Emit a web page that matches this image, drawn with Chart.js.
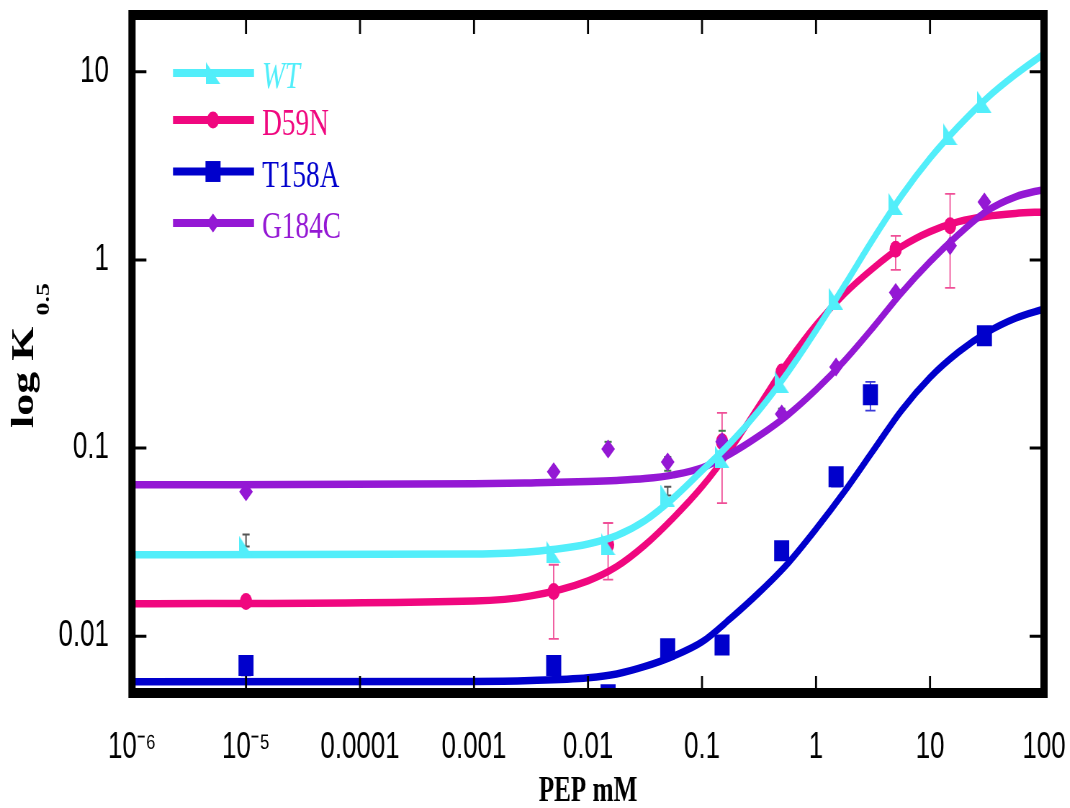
<!DOCTYPE html>
<html>
<head>
<meta charset="utf-8">
<script src="https://cdn.jsdelivr.net/npm/chart.js@4/dist/chart.umd.min.js"></script>
<style>
  html, body { margin: 0; padding: 0; background: #fff; overflow: hidden; }
  /* the original figure is squeezed sideways, so draw wide and squeeze */
  #chart { display: block; transform: scaleX(0.72); transform-origin: 0 0; }
</style>
</head>
<body>
<canvas id="chart" width="1486" height="808" style="width:1486px;height:808px"></canvas>
<script>
// tick labels
const xTickValues = [1e-6, 1e-5, 1e-4, 1e-3, 0.01, 0.1, 1, 10, 100];
const xTickLabels = ['10\u207B\u2076', '10\u207B\u2075', '0.0001', '0.001', '0.01', '0.1', '1', '10', '100'];
const yTickValues = [0.01, 0.1, 1, 10];
const yTickLabels = ['0.01', '0.1', '1', '10'];

// measured points
const wtX = [1e-5, 0.005, 0.015, 0.05, 0.15, 0.5, 1.5, 5, 15, 30];
const wtY = [0.030, 0.028, 0.031, 0.056, 0.090, 0.225, 0.62, 1.98, 4.67, 6.9];
const wtLo = [0.030, null, null, 0.056, null, null, null, null, null, null];
const wtHi = [0.0348, null, null, 0.0623, null, null, null, null, null, null];

const d59nX = [1e-5, 0.005, 0.015, 0.15, 0.5, 5, 15];
const d59nY = [0.0153, 0.0173, 0.0307, 0.108, 0.254, 1.14, 1.52];
const d59nLo = [null, 0.0097, 0.020, 0.051, null, 0.885, 0.71];
const d59nHi = [null, 0.024, 0.040, 0.154, null, 1.34, 2.24];

const t158aX = [1e-5, 0.005, 0.015, 0.05, 0.15, 0.5, 1.5, 3, 30];
const t158aY = [0.0070, 0.0070, 0.0049, 0.0086, 0.0090, 0.0285, 0.0704, 0.192, 0.395];
const t158aLo = [0.0062, null, null, null, null, null, 0.0625, 0.158, null];
const t158aHi = [null, null, null, null, null, null, null, 0.225, null];

const g184cX = [1e-5, 0.005, 0.015, 0.05, 0.15, 0.5, 1.5, 5, 15, 30];
const g184cY = [0.0586, 0.0748, 0.099, 0.0845, 0.108, 0.152, 0.27, 0.67, 1.19, 2.03];
const g184cLo = [null, null, null, 0.0757, null, null, null, 0.636, null, null];
const g184cHi = [null, null, 0.108, 0.0898, 0.1236, 0.162, null, null, null, null];

// fitted curves at quarter decades
const curveX = [1e-6, 1e-3, 0.00316, 0.01, 0.0178, 0.0316, 0.0562, 0.1, 0.178, 0.316, 0.562, 1, 1.78, 3.16, 5.62, 10, 17.8, 31.6, 56.2, 100];
const wtFit = [0.0271, 0.02742, 0.02818, 0.03097, 0.03428, 0.04121, 0.05433, 0.07586, 0.1067, 0.1585, 0.2512, 0.4217, 0.7328, 1.288, 2.188, 3.467, 5.129, 7.244, 9.661, 12.45];
const d59nFit = [0.01489, 0.01542, 0.01641, 0.01972, 0.02344, 0.03055, 0.04266, 0.06237, 0.09886, 0.1679, 0.2851, 0.4519, 0.6607, 0.9016, 1.175, 1.413, 1.596, 1.706, 1.766, 1.799];
const t158aFit = [0.00574, 0.005754, 0.005821, 0.006026, 0.00631, 0.006918, 0.007852, 0.009333, 0.01245, 0.01706, 0.02427, 0.03715, 0.05888, 0.09661, 0.1585, 0.2371, 0.3236, 0.4121, 0.4898, 0.5495];
const g184cFit = [0.06383, 0.06457, 0.06531, 0.06637, 0.0673, 0.06887, 0.07211, 0.07852, 0.09333, 0.1161, 0.1496, 0.2042, 0.2917, 0.4365, 0.6683, 0.9772, 1.365, 1.82, 2.163, 2.371];

const seriesNames = ['WT', 'D59N', 'T158A', 'G184C'];

const CYAN = '#52eefa';
const PINK = '#f0077f';
const BLUE = '#0000cc';
const PURPLE = '#9418d4';
const S = 0.72;

function rightTriangle(color) {
  const c = document.createElement('canvas');
  c.width = 20; c.height = 22;
  const g = c.getContext('2d');
  g.fillStyle = color;
  g.beginPath();
  g.moveTo(0, 0); g.lineTo(0, 22); g.lineTo(20, 22);
  g.closePath();
  g.fill();
  return c;
}
const triangle = rightTriangle(CYAN);

const markers = [
  {color: CYAN, style: triangle, radius: 10},
  {color: PINK, style: 'circle', radius: 8.5},
  {color: BLUE, style: 'rect', radius: 14.8},
  {color: PURPLE, style: 'rectRot', radius: 9.5}
];

function pairs(xs, ys) { return xs.map((x, i) => ({x: x, y: ys[i]})); }

function fitSet(label, ys, color, order) {
  return {
    label: label, data: pairs(curveX, ys), showLine: true, pointRadius: 0,
    borderColor: color, borderWidth: 7.5, cubicInterpolationMode: 'monotone',
    fill: false, order: order
  };
}
function pointSet(label, xs, ys, m, order) {
  return {
    label: label, data: pairs(xs, ys), showLine: false,
    pointStyle: m.style, pointRadius: m.radius, pointBorderWidth: 0,
    backgroundColor: m.color, borderColor: m.color, order: order
  };
}

const errorBars = [
  {xs: d59nX, lo: d59nLo, hi: d59nHi, color: '#ef4f97', cap: 7, width: 1.8},
  {xs: t158aX, lo: t158aLo, hi: t158aHi, color: '#3a3ad8', cap: 7, width: 1.8},
  {xs: wtX, lo: wtLo, hi: wtHi, color: '#555555', cap: 5, width: 2},
  {xs: g184cX, lo: g184cLo, hi: g184cHi, color: '#3f7f4a', cap: 5, width: 2}
];

const errorPlugin = {
  id: 'errors',
  beforeDatasetsDraw(chart) {
    const {ctx, scales: {x, y}} = chart;
    ctx.save();
    errorBars.forEach(e => {
      ctx.strokeStyle = e.color;
      ctx.lineWidth = e.width;
      e.xs.forEach((xv, i) => {
        if (e.lo[i] == null && e.hi[i] == null) return;
        const px = x.getPixelForValue(xv);
        const p1 = y.getPixelForValue(e.lo[i]);
        const p2 = y.getPixelForValue(e.hi[i]);
        ctx.beginPath();
        ctx.moveTo(px, p1); ctx.lineTo(px, p2);
        if (e.lo[i] != null) { ctx.moveTo(px - e.cap, p1); ctx.lineTo(px + e.cap, p1); }
        if (e.hi[i] != null) { ctx.moveTo(px - e.cap, p2); ctx.lineTo(px + e.cap, p2); }
        ctx.stroke();
      });
    });
    ctx.restore();
  }
};

const framePlugin = {
  id: 'frame',
  afterDatasetsDraw(chart) {
    const {ctx, chartArea: a, scales: {x, y}} = chart;
    ctx.save();
    ctx.strokeStyle = '#000';
    // inward ticks on all four sides
    ctx.lineWidth = 2.8;
    xTickValues.forEach(v => {
      const px = x.getPixelForValue(v);
      ctx.beginPath();
      ctx.moveTo(px, a.bottom); ctx.lineTo(px, a.bottom - 17);
      ctx.moveTo(px, a.top); ctx.lineTo(px, a.top + 19);
      ctx.stroke();
    });
    ctx.lineWidth = 3;
    yTickValues.forEach(v => {
      const py = y.getPixelForValue(v);
      ctx.beginPath();
      ctx.moveTo(a.left, py); ctx.lineTo(a.left + 20, py);
      ctx.moveTo(a.right, py); ctx.lineTo(a.right - 20, py);
      ctx.stroke();
    });
    ctx.lineWidth = 10;
    ctx.strokeRect(a.left, a.top, a.right - a.left, a.bottom - a.top);
    ctx.restore();
  }
};

const legendPlugin = {
  id: 'insideLegend',
  afterDraw(chart) {
    const ctx = chart.ctx;
    const rows = [73, 120, 171.5, 223];
    const x0 = 173 / S, x1 = 254 / S, xm = 213 / S, xt = 262 / S;
    ctx.save();
    seriesNames.forEach((name, i) => {
      const m = markers[i];
      ctx.strokeStyle = m.color;
      ctx.fillStyle = m.color;
      ctx.lineWidth = 8;
      ctx.beginPath();
      ctx.moveTo(x0, rows[i]); ctx.lineTo(x1, rows[i]);
      ctx.stroke();
      Chart.helpers.drawPoint(ctx, {pointStyle: m.style, radius: m.radius, rotation: 0, borderWidth: 0}, xm, rows[i]);
      ctx.font = (i === 0 ? 'italic ' : '') + '38px "Liberation Serif", "Times New Roman", serif';
      ctx.textBaseline = 'alphabetic';
      ctx.textAlign = 'left';
      ctx.fillText(name, xt, rows[i] + 15);
    });
    ctx.restore();
  }
};

const yTitlePlugin = {
  id: 'yTitle',
  afterDraw(chart) {
    const ctx = chart.ctx;
    ctx.save();
    ctx.fillStyle = '#000';
    ctx.translate(46, 428);
    ctx.rotate(-Math.PI / 2);
    ctx.textBaseline = 'alphabetic';
    ctx.textAlign = 'left';
    ctx.font = 'bold 44px "Liberation Serif", "Times New Roman", serif';
    ctx.fillText('log K', 0, 0);
    const w = ctx.measureText('log K ').width;
    ctx.font = 'bold 26px "Liberation Serif", "Times New Roman", serif';
    ctx.fillText('0.5', w, 22);
    ctx.restore();
  }
};

new Chart(document.getElementById('chart'), {
  type: 'scatter',
  data: {
    datasets: [
      fitSet('WT fit', wtFit, CYAN, 1),
      pointSet('WT', wtX, wtY, markers[0], 0),
      fitSet('G184C fit', g184cFit, PURPLE, 3),
      pointSet('G184C', g184cX, g184cY, markers[3], 2),
      fitSet('T158A fit', t158aFit, BLUE, 5),
      pointSet('T158A', t158aX, t158aY, markers[2], 4),
      fitSet('D59N fit', d59nFit, PINK, 7),
      pointSet('D59N', d59nX, d59nY, markers[1], 6)
    ]
  },
  options: {
    responsive: false,
    animation: false,
    devicePixelRatio: 1,
    events: [],
    layout: {padding: {top: 15, right: 36, bottom: 0, left: 0}},
    plugins: {legend: {display: false}, tooltip: {enabled: false}},
    scales: {
      x: {
        type: 'logarithmic', min: 1e-6, max: 100,
        grid: {display: false, drawTicks: false},
        border: {display: false},
        afterBuildTicks: s => { s.ticks = xTickValues.map(v => ({value: v})); },
        afterFit: s => { s.height = 115; s.paddingLeft = 0; s.paddingRight = 0; },
        ticks: {
          autoSkip: false, maxRotation: 0, padding: 33, color: '#000',
          font: {family: '"Liberation Sans", Arial, sans-serif', size: 36},
          callback: (v, i) => xTickLabels[i]
        },
        title: {
          display: true, text: 'PEP mM', color: '#000',
          font: {family: '"Liberation Serif", "Times New Roman", serif', size: 35, weight: 'bold', lineHeight: 0.8},
          padding: {top: 0, bottom: 2}
        }
      },
      y: {
        type: 'logarithmic', min: 0.005, max: 20,
        grid: {display: false, drawTicks: false},
        border: {display: false},
        afterBuildTicks: s => { s.ticks = yTickValues.map(v => ({value: v})); },
        afterFit: s => { s.width = 132 / S; s.paddingTop = 0; s.paddingBottom = 0; },
        ticks: {
          autoSkip: false, padding: 32, color: '#000',
          font: {family: '"Liberation Sans", Arial, sans-serif', size: 36},
          callback: (v, i) => yTickLabels[i]
        }
      }
    }
  },
  plugins: [errorPlugin, framePlugin, legendPlugin, yTitlePlugin]
});
</script>
</body>
</html>
